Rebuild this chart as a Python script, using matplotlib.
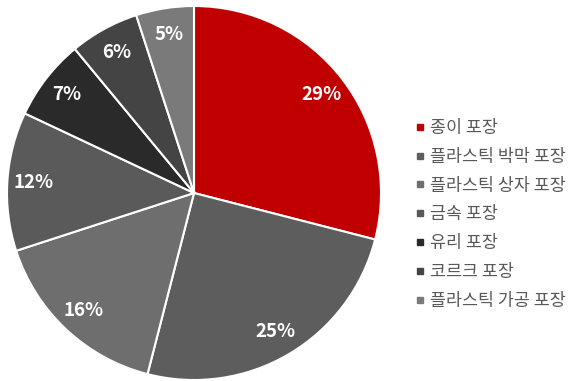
import matplotlib
matplotlib.use("Agg")
import matplotlib.pyplot as plt
from matplotlib.lines import Line2D

plt.rcParams['font.family'] = ['Noto Sans CJK KR', 'DejaVu Sans']

# packaging material shares (%)
labels = ["종이 포장", "플라스틱 박막 포장", "플라스틱 상자 포장", "금속 포장",
          "유리 포장", "코르크 포장", "플라스틱 가공 포장"]
shares = [29, 25, 16, 12, 7, 6, 5]
colors = ["#c00000", "#5d5d5d", "#6e6e6e", "#5a5a5a", "#2a2a2a", "#444444", "#7a7a7a"]

fig = plt.figure(figsize=(5.77, 3.81), dpi=100)
W, H = 577, 381
cx, cy, r = 194, 193, 187
ax = fig.add_axes([(cx - r) / W, (H - cy - r) / H, 2 * r / W, 2 * r / H])

wedges, texts, autotexts = ax.pie(
    shares, colors=colors, startangle=90, counterclock=False,
    autopct="%d%%", pctdistance=0.86,
    wedgeprops=dict(edgecolor="white", linewidth=1.5),
    textprops=dict(color="white", fontsize=13.5, fontweight="bold"))
ax.set_xlim(-1.0, 1.0)
ax.set_ylim(-1.0, 1.0)
ax.set_aspect("equal")

# legend on the right, small square markers
handles = [Line2D([], [], marker="s", linestyle="none", markersize=4,
                  markerfacecolor=c, markeredgecolor=c) for c in colors]
leg = fig.legend(handles, labels, loc="upper left", bbox_to_anchor=(407 / W, 1 - 110 / H),
                 frameon=False, fontsize=12.5, labelspacing=0.63, handlelength=0.5,
                 handletextpad=0.35, borderpad=0)
for t in leg.get_texts():
    t.set_color("#595959")

fig.savefig("out.png", dpi=100)
